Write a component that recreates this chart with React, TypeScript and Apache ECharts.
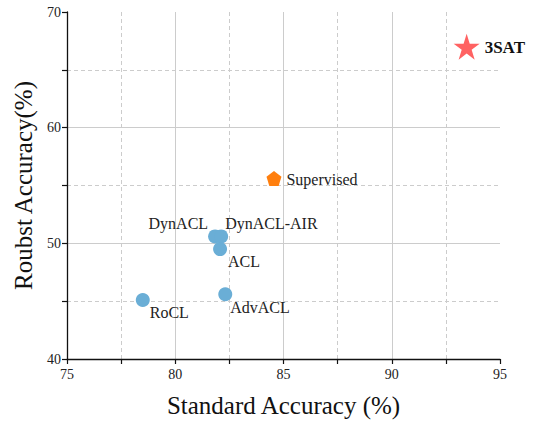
import React, { useEffect, useRef } from "react";
import * as echarts from "echarts";

const baseNames = ["DynACL", "DynACL-AIR", "ACL", "AdvACL", "RoCL"];
const baseX = [81.84, 82.12, 82.07, 82.31, 78.5];
const baseY = [50.6, 50.6, 49.5, 45.6, 45.1];

const supName = ["Supervised"];
const supX = [84.56];
const supY = [55.6];

const oursName = ["3SAT"];
const oursX = [93.46];
const oursY = [67.0];

const FONT = "'Liberation Serif', 'Times New Roman', serif";

const labelOffsets: Record<string, { position: string; offset: number[] }> = {
  DynACL: { position: "left", offset: [5, -13] },
  "DynACL-AIR": { position: "right", offset: [-8, -13] },
  ACL: { position: "right", offset: [-4, 12] },
  AdvACL: { position: "right", offset: [-7, 13] },
  RoCL: { position: "right", offset: [-5, 12] },
};

export default function App() {
  const ref = useRef<HTMLDivElement>(null);
  useEffect(() => {
    document.body.style.margin = "0";
    const chart = echarts.init(ref.current!, null, { renderer: "svg" });
    const axisCommon = {
      type: "value",
      axisLine: { show: true, lineStyle: { color: "#111", width: 1.3 } },
      axisTick: { show: true, inside: false, length: 5, lineStyle: { color: "#111", width: 1.2 } },
      minorTick: { show: true, splitNumber: 2, length: 5, lineStyle: { color: "#111", width: 1.2 } },
      splitLine: { show: true, showMaxLine: false, lineStyle: { color: "#cccccc", width: 1 } },
      minorSplitLine: { show: true, lineStyle: { color: "#cccccc", width: 1, type: [4, 3] } },
      axisLabel: { color: "#222", fontFamily: FONT, fontSize: 14 },
      nameLocation: "middle",
      nameTextStyle: { color: "#111", fontFamily: FONT, fontSize: 25 },
    };
    chart.setOption({
      animation: false,
      backgroundColor: "#fff",
      grid: { left: 67, right: 34, top: 12, bottom: 64, containLabel: false },
      xAxis: {
        ...axisCommon,
        min: 75,
        max: 95,
        interval: 5,
        name: "Standard Accuracy (%)",
        nameGap: 34,
        axisLabel: { ...axisCommon.axisLabel, margin: 8 },
      },
      yAxis: {
        ...axisCommon,
        min: 40,
        max: 70,
        interval: 10,
        name: "Roubst Accuracy(%)",
        nameGap: 29,
        axisLabel: { ...axisCommon.axisLabel, margin: 6 },
      },
      series: [
        {
          type: "scatter",
          symbol: "circle",
          symbolSize: 14,
          itemStyle: { color: "#6aaed6", opacity: 1 },
          data: baseNames.map((n, i) => ({
            name: n,
            value: [baseX[i], baseY[i]],
            label: {
              show: true,
              formatter: n,
              position: labelOffsets[n].position,
              offset: labelOffsets[n].offset,
              distance: 5,
              color: "#222",
              fontFamily: FONT,
              fontSize: 16,
            },
          })),
        },
        {
          type: "scatter",
          symbol: "path://M0,-1 L0.951,-0.309 L0.588,0.809 L-0.588,0.809 L-0.951,-0.309 Z",
          symbolSize: 15,
          itemStyle: { color: "#ff7f0e", opacity: 1 },
          data: supName.map((n, i) => ({
            name: n,
            value: [supX[i], supY[i]],
            label: {
              show: true,
              formatter: n,
              position: "right",
              distance: 5,
              offset: [0, 1],
              color: "#222",
              fontFamily: FONT,
              fontSize: 16,
            },
          })),
        },
        {
          type: "scatter",
          symbol:
            "path://M0,-1 L0.2245,-0.309 L0.951,-0.309 L0.3633,0.118 L0.5878,0.809 L0,0.382 L-0.5878,0.809 L-0.3633,0.118 L-0.951,-0.309 L-0.2245,-0.309 Z",
          symbolSize: 26,
          itemStyle: { color: "#ff6262", opacity: 1 },
          data: oursName.map((n, i) => ({
            name: n,
            value: [oursX[i], oursY[i]],
            label: {
              show: true,
              formatter: n,
              position: "right",
              distance: 5,
              offset: [0, 1],
              color: "#111",
              fontFamily: FONT,
              fontSize: 17,
              fontWeight: "bold",
            },
          })),
        },
      ],
    });
    return () => chart.dispose();
  }, []);
  return <div ref={ref} style={{ width: 534, height: 423 }} />;
}
